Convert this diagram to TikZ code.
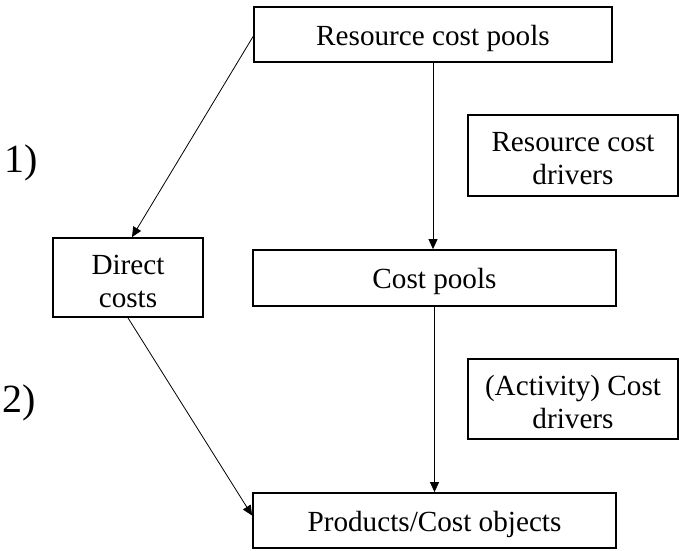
\documentclass[tikz,border=0pt]{standalone}
\usepackage{fontspec}
\setmainfont{Liberation Serif}
\usetikzlibrary{arrows.meta}
\begin{document}
\begin{tikzpicture}[x=1pt,y=-1pt,
  box/.style={draw,line width=1.8pt,rectangle,inner sep=0pt},
  boxtext/.style={inner sep=0pt,align=center,yshift=-3.5pt,
    font=\fontsize{29.2}{33}\selectfont},
  flow/.style={line width=0.8pt,-{Triangle[length=10pt,width=9pt]}},
  steplabel/.style={inner sep=0pt,anchor=base west,font=\fontsize{40}{44}\selectfont}]
\useasboundingbox (0,0) rectangle (679,550);

% cost objects and pools
\node[box,minimum width=358pt,minimum height=55pt,
  label={[boxtext]center:{Resource cost pools}}] (rcp) at (433,34.5) {};
\node[box,minimum width=210pt,minimum height=81pt,
  label={[boxtext]center:{Resource cost\\drivers}}] (rcd) at (573,155.5) {};
\node[box,minimum width=150pt,minimum height=79pt,
  label={[boxtext]center:{Direct\\costs}}] (dc) at (128,277.5) {};
\node[box,minimum width=363pt,minimum height=56pt,
  label={[boxtext]center:{Cost pools}}] (cp) at (434.5,278) {};
\node[box,minimum width=210pt,minimum height=80pt,
  label={[boxtext]center:{(Activity) Cost\\drivers}}] (acd) at (573,399) {};
\node[box,minimum width=363pt,minimum height=55pt,
  label={[boxtext]center:{Products/Cost objects}}] (prod) at (434.5,520.5) {};

% stage labels
\node[steplabel] (s1) at (4,172) {1)};
\node[steplabel] (s2) at (2,412) {2)};

% allocation flows
\draw[flow] (rcp.south) -- (rcp.south |- cp.north);
\draw[flow] (cp.south) -- (cp.south |- prod.north);
\draw[flow] ([yshift=-2pt]rcp.west) -- ([xshift=4pt]dc.north);
\draw[flow] (dc.south) -- ([yshift=5pt]prod.west);
\end{tikzpicture}
\end{document}
